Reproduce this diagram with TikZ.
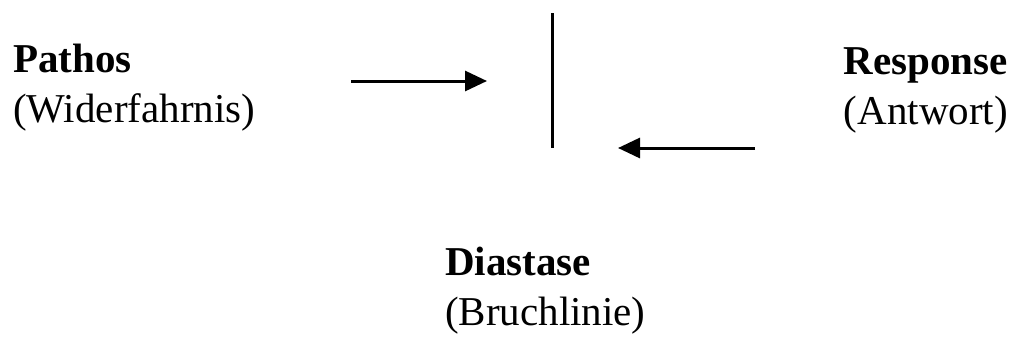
\documentclass[tikz,border=0pt]{standalone}
\usepackage{fontspec}
\setmainfont{Liberation Serif}
\usetikzlibrary{arrows.meta}
\tikzset{
  lbl/.style={anchor=base west, inner sep=0pt, font=\fontsize{41}{48}\selectfont},
  head/.style={lbl, font=\fontsize{41}{48}\selectfont\bfseries},
  arr/.style={line width=3pt, -{Triangle[length=22pt,width=20pt]}},
  bar/.style={line width=3pt}
}
\begin{document}
\begin{tikzpicture}[x=1pt,y=-1pt]
  \useasboundingbox (0,0) rectangle (1014,338);
  % labels
  \node[head] (pathos) at (13,72) {Pathos};
  \node[lbl]  (widerf) at (13,122) {(Widerfahrnis)};
  \node[head, anchor=base east] (resp) at (1008,74) {Response};
  \node[lbl, anchor=base east]  (antw) at (1008,124) {(Antwort)};
  \node[head] (diast)  at (445,275) {Diastase};
  \node[lbl]  (bruch)  at (445,325) {(Bruchlinie)};
  % the break line and the two arrows meeting it
  \coordinate (bartop) at (552,13);
  \coordinate (barbot) at (552,148);
  \draw[bar] (bartop) -- (barbot);
  \coordinate (a1s) at (351,81);
  \coordinate (a1e) at (487,81);
  \draw[arr] (a1s) -- (a1e);
  \coordinate (a2s) at (755,148);
  \coordinate (a2e) at (618,148);
  \draw[arr] (a2s) -- (a2e);
\end{tikzpicture}
\end{document}
